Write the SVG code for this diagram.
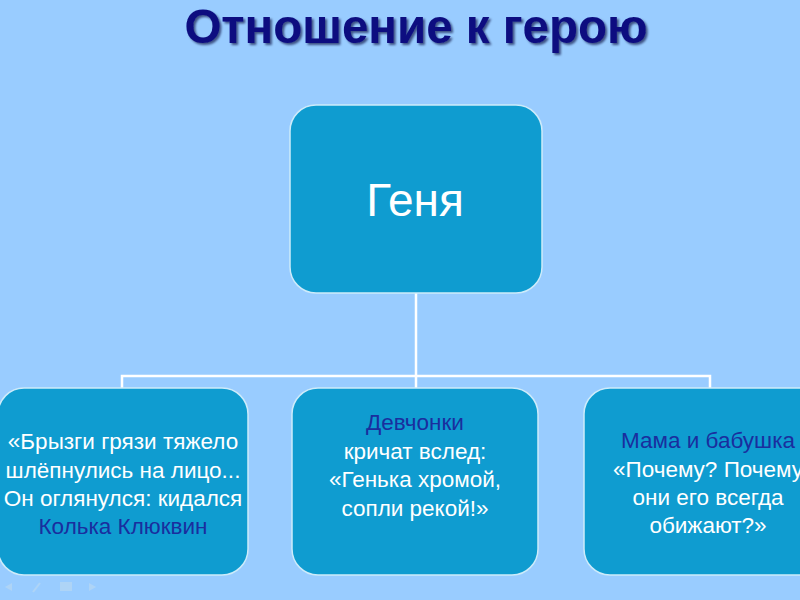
<svg xmlns="http://www.w3.org/2000/svg" width="800" height="600" viewBox="0 0 800 600">
<defs>
<style>
.box{fill:#0F9CD0;stroke:#CDEBFA;stroke-width:1.5}
.t{font-family:"Liberation Sans",Arial,sans-serif;font-size:22.5px;fill:#FFFFFF;text-anchor:middle}
.d{fill:#1A2E9E}
.con{stroke:#FFFFFF;stroke-width:2.5;fill:none}
</style>
<filter id="sh" x="-5%" y="-20%" width="110%" height="150%">
<feDropShadow dx="2" dy="2" stdDeviation="1" flood-color="#000033" flood-opacity="0.6"/>
</filter>
</defs>
<rect width="800" height="600" fill="#99CCFF"/>
<text x="416" y="43" font-family="'Liberation Sans',Arial,sans-serif" font-size="47.5" font-weight="bold" fill="#0D0D80" text-anchor="middle" filter="url(#sh)">Отношение к герою</text>
<g id="connectors">
<path class="con" d="M416,293 V388 M122,388 V376 H710 V388"/>
</g>
<g id="node-genya">
<rect class="box" x="290" y="105" width="252" height="188" rx="26"/>
<text class="t" x="415" y="216" style="font-size:46px">Геня</text>
</g>
<g id="node-left">
<rect class="box" x="-2" y="388" width="250" height="187" rx="26"/>
<text class="t" x="123" y="449">«Брызги грязи тяжело</text>
<text class="t" x="123" y="478">шлёпнулись на лицо...</text>
<text class="t" x="123" y="506">Он оглянулся: кидался</text>
<text class="t d" x="123" y="534">Колька Клюквин</text>
</g>
<g id="node-middle">
<rect class="box" x="292" y="388" width="246" height="187" rx="26"/>
<text class="t d" x="415" y="430">Девчонки</text>
<text class="t" x="415" y="459">кричат вслед:</text>
<text class="t" x="415" y="487">«Генька хромой,</text>
<text class="t" x="415" y="516">сопли рекой!»</text>
</g>
<g id="node-right">
<rect class="box" x="584" y="388" width="250" height="187" rx="26"/>
<text class="t d" x="708" y="448">Мама и бабушка</text>
<text class="t" x="708" y="477">«Почему? Почему</text>
<text class="t" x="708" y="505">они его всегда</text>
<text class="t" x="708" y="533">обижают?»</text>
</g>
<g id="controls" fill="#B4D6F5" opacity="0.8">
<path d="M5,587 L12,583 L12,591 Z"/>
<path d="M33,592 L40,583" stroke="#B4D6F5" stroke-width="2"/>
<rect x="60" y="582" width="12" height="9"/>
<path d="M96,587 L89,583 L89,591 Z"/>
</g>
</svg>
